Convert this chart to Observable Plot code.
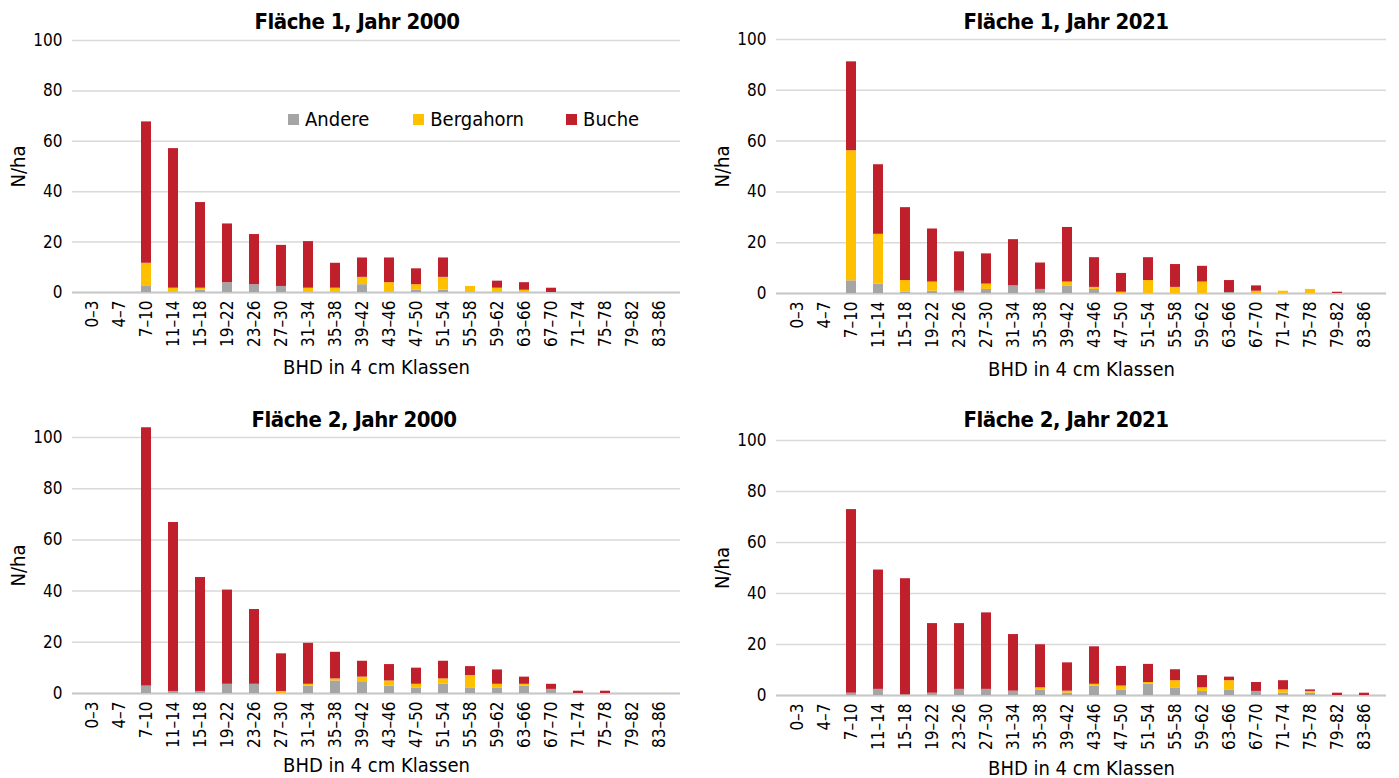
<!DOCTYPE html>
<html>
<head>
<meta charset="utf-8">
<script src="https://cdn.jsdelivr.net/npm/d3@7"></script>
<script src="https://cdn.jsdelivr.net/npm/@observablehq/plot@0.6"></script>
<style>
  html, body { margin: 0; padding: 0; background: #fff; }
  #root { position: relative; width: 1399px; height: 778px; overflow: hidden;
          font-family: "Liberation Sans Narrow", "DejaVu Sans Condensed", Roboto, sans-serif; color: #000; }
  .panel { position: absolute; }
  .title { position: absolute; font-weight: bold; font-size: 22px; letter-spacing: -0.5px; text-align: center; width: 400px; line-height: 1; }
  .legend { position: absolute; left: 288px; top: 109px; font-size: 20px; display: flex; align-items: center; line-height: 1; }
  .legend span.sw { display: inline-block; width: 11px; height: 11px; margin-right: 6px; }
  .legend span.item { display: inline-flex; align-items: center; }
</style>
</head>
<body>
<div id="root"></div>
<script>
// ---- Data ----
const classes = ["0–3","4–7","7–10","11–14","15–18","19–22","23–26","27–30","31–34","35–38","39–42",
                 "43–46","47–50","51–54","55–58","59–62","63–66","67–70","71–74","75–78","79–82","83–86"];
const species = ["Andere", "Bergahorn", "Buche"];
const speciesColors = ["#a5a5a5", "#ffc000", "#c0202c"];
const yTicks = [0, 20, 40, 60, 80, 100];

// Fläche 1, Jahr 2000
const andere1 = [0,0,2.4,0,0.9,3.9,3.1,2.4,0,0,3.1,0,0.9,0.9,0,0,0,0,0,0,0,0];
const berg1   = [0,0,9.2,1.7,0.8,0,0,0,1.7,1.7,2.9,3.9,2.2,5.1,2.4,1.7,0.9,0,0,0,0,0];
const buche1  = [0,0,56.1,55.4,34,23.3,19.9,16.3,18.5,9.9,7.7,9.8,6.3,7.7,0,2.8,3.0,1.7,0,0,0,0];
// Fläche 1, Jahr 2021
const andere2 = [0,0,5.0,3.7,0.5,0.9,0.9,1.6,3.0,1.6,3.0,1.6,0,0,0,0,0.4,0,0,0,0,0];
const berg2   = [0,0,51.2,19.6,4.6,3.6,0,2.1,0,0,1.5,0.8,0.5,5.1,2.4,4.5,0,0.9,0.9,1.6,0,0];
const buche2  = [0,0,35,27.4,28.7,20.9,15.5,11.9,18.2,10.4,21.5,11.7,7.4,9.0,9.0,6.2,4.7,2.1,0,0,0.5,0];
// Fläche 2, Jahr 2000
const andere3 = [0,0,2.9,0.8,0.8,3.6,3.6,0,2.9,4.9,4.3,2.9,2.2,3.6,2.2,2.2,2.9,1.6,0,0,0,0];
const berg3   = [0,0,0,0,0,0,0,0.8,0.7,0.8,2.1,2.0,1.4,2.1,4.8,1.4,0.7,0,0,0,0,0];
const buche3  = [0,0,100.9,66,44.5,36.8,29.2,14.7,16,10.4,6.2,6.4,6.3,6.9,3.5,5.6,2.8,2.0,0.9,0.9,0,0];
// Fläche 2, Jahr 2021
const andere4 = [0,0,0.9,2.4,0.3,0.9,2.4,2.4,1.7,2.2,0.9,3.7,2.2,4.4,3.0,1.6,2.2,1.6,0.9,0.9,0,0];
const berg4   = [0,0,0,0,0,0,0,0,0,0.8,0.8,0.7,1.5,0.7,2.8,1.4,3.6,0,1.3,0.7,0,0];
const buche4  = [0,0,72,46.8,45.5,27.3,25.8,30,22.2,16.9,11.1,14.7,7.7,7.1,4.3,4.8,1.4,3.5,3.6,0.6,0.9,0.9];

const titles = ["Fläche 1, Jahr 2000", "Fläche 1, Jahr 2021", "Fläche 2, Jahr 2000", "Fläche 2, Jahr 2021"];
const xLabel = "BHD in 4 cm Klassen";
const yLabel = "N/ha";

function table(a, b, c) {
  const rows = [];
  [a, b, c].forEach((arr, si) => arr.forEach((v, i) => rows.push({cls: classes[i], species: species[si], value: v})));
  return rows;
}

const FONT = '"Liberation Sans Narrow", "DejaVu Sans Condensed", Roboto, sans-serif';

const panels = [
  {data: table(andere1, berg1, buche1), left: 0,   top: 30,  width: 700, height: 350, mt: 10, mb: 88, ml: 72, mr: 20, lo: 81, titleX: 157, titleY: 11},
  {data: table(andere2, berg2, buche2), left: 700, top: 30,  width: 699, height: 350, mt: 9,  mb: 87, ml: 76, mr: 13, lo: 82, titleX: 866, titleY: 11},
  {data: table(andere3, berg3, buche3), left: 0,   top: 425, width: 700, height: 353, mt: 12, mb: 85, ml: 72, mr: 20, lo: 78, titleX: 154, titleY: 409},
  {data: table(andere4, berg4, buche4), left: 700, top: 425, width: 699, height: 353, mt: 15, mb: 83, ml: 76, mr: 13, lo: 79, titleX: 866, titleY: 409}
];

const root = document.getElementById("root");

panels.forEach((p, k) => {
  const chart = Plot.plot({
    width: p.width,
    height: p.height,
    marginTop: p.mt,
    marginBottom: p.mb,
    marginLeft: p.ml,
    marginRight: p.mr,
    style: {fontFamily: FONT, fontSize: "17px", color: "#000", background: "transparent", overflow: "visible"},
    x: {domain: classes, paddingInner: 0.62, paddingOuter: 0.31, tickRotate: -90, tickSize: 0, tickPadding: 8,
        label: xLabel, labelAnchor: "center", labelOffset: p.lo},
    y: {domain: [0, 100], ticks: yTicks, tickSize: 0, tickPadding: 10, label: yLabel, labelAnchor: "center", labelOffset: 62, labelArrow: "none"},
    color: {domain: species, range: speciesColors},
    marks: [
      Plot.ruleY(yTicks, {stroke: "#d9d9d9", strokeWidth: 1.5}),
      Plot.ruleY([0], {stroke: "#c8c8c8", strokeWidth: 2}),
      Plot.barY(p.data, {x: "cls", y: "value", fill: "species", order: species})
    ]
  });
  // enlarge axis titles
  chart.querySelectorAll("text").forEach(t => {
    const s = t.textContent.trim();
    if (s.includes(xLabel) || s === yLabel) {
      t.style.fontSize = "20px";
      t.setAttribute("font-size", "20");
    }
  });
  const div = document.createElement("div");
  div.className = "panel";
  div.style.left = p.left + "px";
  div.style.top = p.top + "px";
  div.appendChild(chart);
  root.appendChild(div);

  const t = document.createElement("div");
  t.className = "title";
  t.textContent = titles[k];
  t.style.left = p.titleX + "px";
  t.style.top = p.titleY + "px";
  root.appendChild(t);
});

// legend (top-left panel)
const lg = document.createElement("div");
lg.className = "legend";
species.forEach((s, i) => {
  const item = document.createElement("span");
  item.className = "item";
  item.style.marginRight = ["44px", "42px", "0"][i];
  const sw = document.createElement("span");
  sw.className = "sw";
  sw.style.background = speciesColors[i];
  item.appendChild(sw);
  item.appendChild(document.createTextNode(s));
  lg.appendChild(item);
});
root.appendChild(lg);
</script>
</body>
</html>
